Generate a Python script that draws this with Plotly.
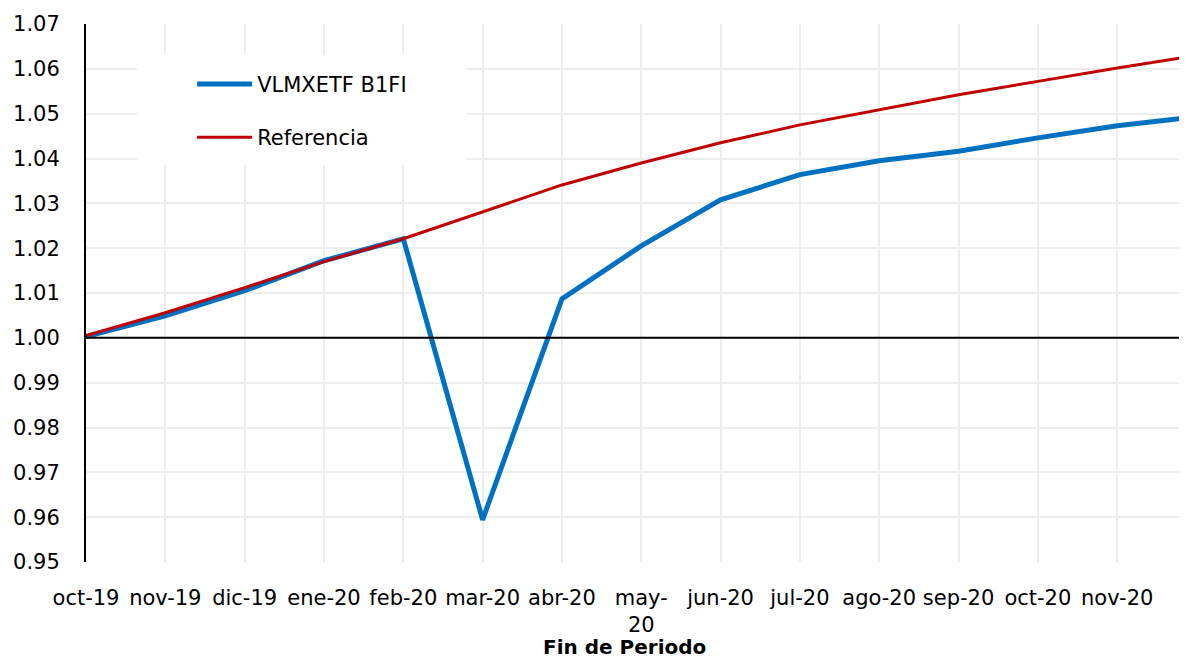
import plotly.graph_objects as go

meses = ["oct-19", "nov-19", "dic-19", "ene-20", "feb-20", "mar-20", "abr-20",
         "may-20", "jun-20", "jul-20", "ago-20", "sep-20", "oct-20", "nov-20", "dic-20"]
etiquetas = ["oct-19", "nov-19", "dic-19", "ene-20", "feb-20", "mar-20", "abr-20",
             "may-<br>20", "jun-20", "jul-20", "ago-20", "sep-20", "oct-20", "nov-20", "dic-20"]
vlmxetf = [1.0003, 1.0049, 1.0105, 1.0172, 1.0221, 0.9594, 1.0087,
           1.0205, 1.0308, 1.0364, 1.0395, 1.0416, 1.0446, 1.0473, 1.0493]
referencia = [1.0005, 1.0056, 1.0112, 1.0170, 1.0221, 1.0281, 1.0341,
              1.0390, 1.0435, 1.0475, 1.0509, 1.0542, 1.0572, 1.0602, 1.0630]
y_ticks = [0.95, 0.96, 0.97, 0.98, 0.99, 1.00, 1.01, 1.02, 1.03, 1.04, 1.05, 1.06, 1.07]

x_idx = list(range(len(meses)))
FONT = "DejaVu Sans"

fig = go.Figure()
fig.add_trace(go.Scatter(x=x_idx, y=vlmxetf, mode="lines", name="VLMXETF B1FI",
                         line=dict(color="#0070C0", width=5), legendgroup="a",
                         customdata=meses, hovertemplate="%{customdata}: %{y:.4f}<extra></extra>"))
fig.add_trace(go.Scatter(x=x_idx, y=referencia, mode="lines", name="Referencia",
                         line=dict(color="#C00000", width=3), legendgroup="b",
                         customdata=meses, hovertemplate="%{customdata}: %{y:.4f}<extra></extra>"))

# white legend background box
fig.add_shape(type="rect", xref="paper", yref="paper",
              x0=0.0463, x1=0.346, y0=0.738, y1=0.9424,
              fillcolor="white", line=dict(width=0), layer="above")
# horizontal line at 1.00
fig.add_shape(type="line", xref="paper", yref="y", x0=0, x1=1, y0=1.0, y1=1.0,
              line=dict(color="black", width=2), layer="above")

# axis title
fig.add_annotation(text="<b>Fin de Periodo</b>", xref="paper", yref="paper",
                   x=0.4895, y=-0.158, xanchor="center", yanchor="middle",
                   showarrow=False, font=dict(family=FONT, size=20, color="black"))

# page body has an 8px margin, so the figure is sized to fit inside the window
fig.update_layout(
    width=1179, height=651,
    margin=dict(l=78, r=0, t=16, b=97),
    paper_bgcolor="white", plot_bgcolor="white",
    font=dict(family=FONT, size=21, color="black"),
    showlegend=True,
    legend=dict(x=0.0964, y=0.926, xanchor="left", yanchor="top",
                bgcolor="rgba(0,0,0,0)", borderwidth=0,
                font=dict(family=FONT, size=21, color="black"),
                tracegroupgap=23, itemwidth=55),
    xaxis=dict(range=[0, 13.88], tickmode="array", tickvals=x_idx, ticktext=etiquetas,
               showgrid=True, gridcolor="#EDEDED", gridwidth=2, zeroline=False,
               showline=False, ticks="", ticklabelstandoff=21, automargin=False),
    yaxis=dict(range=[0.95, 1.07], tickmode="array", tickvals=y_ticks,
               tickformat=".2f", showgrid=True, gridcolor="#EDEDED", gridwidth=2,
               zeroline=False, showline=True, linecolor="black", linewidth=2,
               ticks="", ticklabelstandoff=20, automargin=False),
)

fig.write_html("out.html")
